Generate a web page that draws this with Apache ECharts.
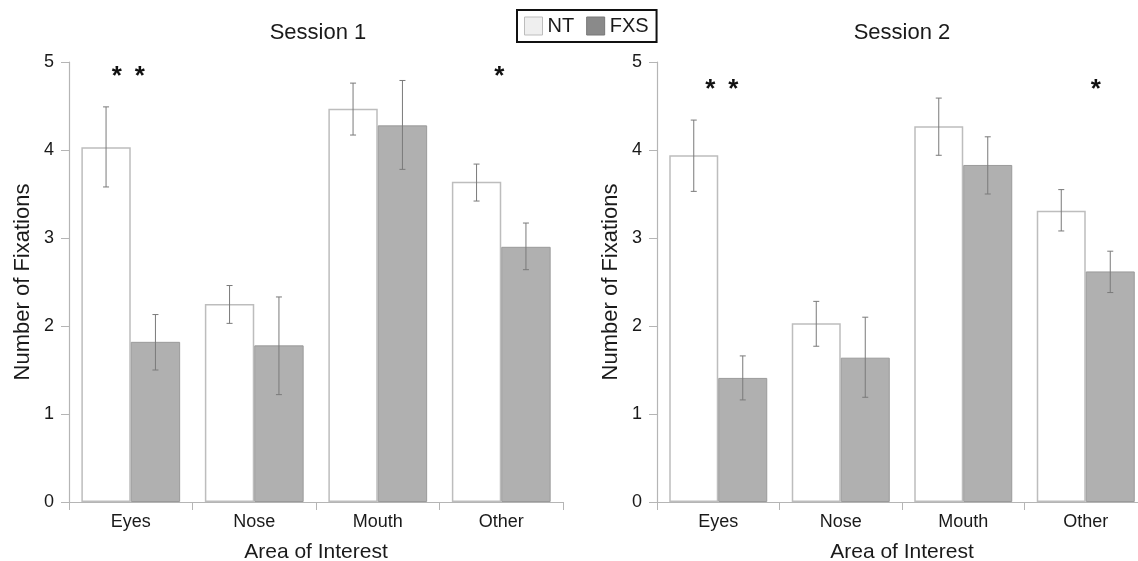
<!DOCTYPE html>
<html>
<head>
<meta charset="utf-8">
<script src="https://cdn.jsdelivr.net/npm/echarts@6/dist/echarts.min.js"></script>
<style>
html,body{margin:0;padding:0;background:#fff;}
#c{width:1138px;height:561px;}
</style>
</head>
<body>
<div id="c"></div>
<script>
// ---- data ----
const categories = ['Eyes', 'Nose', 'Mouth', 'Other'];
const seriesNames = ['NT', 'FXS'];
const titles = ['Session 1', 'Session 2'];
const yTicks = [0, 1, 2, 3, 4, 5];

const s1NT = [4.03, 2.25, 4.47, 3.64];
const s1NTHigh = [4.49, 2.46, 4.76, 3.84];
const s1NTLow = [3.58, 2.03, 4.17, 3.42];
const s1FXS = [1.82, 1.78, 4.28, 2.90];
const s1FXSHigh = [2.13, 2.33, 4.79, 3.17];
const s1FXSLow = [1.50, 1.22, 3.78, 2.64];

const s2NT = [3.94, 2.03, 4.27, 3.31];
const s2NTHigh = [4.34, 2.28, 4.59, 3.55];
const s2NTLow = [3.53, 1.77, 3.94, 3.08];
const s2FXS = [1.41, 1.64, 3.83, 2.62];
const s2FXSHigh = [1.66, 2.10, 4.15, 2.85];
const s2FXSLow = [1.16, 1.19, 3.50, 2.38];

// significance markers: category, marker text
const s1Sig = [['Eyes', '* *'], ['Other', '*']];
const s2Sig = [['Eyes', '* *'], ['Other', '*']];

// ---- styling ----
const FONT = 'Liberation Sans, Arial, Helvetica, sans-serif';
const GAP = 0.20;
const axisGray = '#b5b5b5';
const textCol = '#1a1a1a';

const chart = echarts.init(document.getElementById('c'), null, {renderer: 'canvas'});

function errSeries(gridIdx, name, high, low, side) {
  return {
    type: 'custom',
    name: name,
    xAxisIndex: gridIdx,
    yAxisIndex: gridIdx,
    z: 5,
    silent: true,
    data: high.map((h, i) => [i, h, low[i]]),
    renderItem: function (params, api) {
      const idx = api.value(0);
      const top = api.coord([idx, api.value(1)]);
      const bot = api.coord([idx, api.value(2)]);
      const band = api.size([1, 0])[0];
      const barW = band * (1 - GAP) / 2;
      const cx = top[0] + side * barW / 2;
      const st = {stroke: '#7a7a7a', lineWidth: 1};
      const cap = 3;
      return {
        type: 'group',
        children: [
          {type: 'line', shape: {x1: cx, y1: top[1], x2: cx, y2: bot[1]}, style: st},
          {type: 'line', shape: {x1: cx - cap, y1: top[1], x2: cx + cap, y2: top[1]}, style: st},
          {type: 'line', shape: {x1: cx - cap, y1: bot[1], x2: cx + cap, y2: bot[1]}, style: st}
        ]
      };
    }
  };
}

function sigSeries(gridIdx, sig, level, dxMap) {
  return {
    type: 'custom',
    xAxisIndex: gridIdx,
    yAxisIndex: gridIdx,
    z: 6,
    silent: true,
    data: sig.map(s => [categories.indexOf(s[0]), level, s[1]]),
    renderItem: function (params, api) {
      const idx = api.value(0);
      const p = api.coord([idx, api.value(1)]);
      const txt = sig[params.dataIndex][1];
      const stars = txt.split(' ');
      const dx = dxMap[params.dataIndex];
      const children = stars.map((st, k) => {
        const off = stars.length > 1 ? (k === 0 ? -11.5 : 11.5) : 0;
        return {
          type: 'text',
          style: {
            x: p[0] + dx + off, y: p[1],
            text: st, fill: '#111',
            font: 'bold 26px ' + FONT,
            textAlign: 'center', textVerticalAlign: 'middle'
          }
        };
      });
      return {type: 'group', children: children};
    }
  };
}

function xAxisCfg(gridIdx) {
  return {
    type: 'category',
    gridIndex: gridIdx,
    data: categories,
    name: 'Area of Interest',
    nameLocation: 'middle',
    nameGap: 40,
    nameTextStyle: {fontFamily: FONT, fontSize: 21, color: textCol},
    axisLine: {lineStyle: {color: axisGray, width: 1.2}},
    axisTick: {show: true, alignWithLabel: false, length: 8, lineStyle: {color: axisGray}},
    axisLabel: {fontFamily: FONT, fontSize: 18, color: textCol, margin: 11},
    splitLine: {show: false}
  };
}

function yAxisCfg(gridIdx) {
  return {
    type: 'value',
    gridIndex: gridIdx,
    min: yTicks[0],
    max: yTicks[yTicks.length - 1],
    interval: 1,
    name: 'Number of Fixations',
    nameLocation: 'middle',
    nameGap: 35,
    nameTextStyle: {fontFamily: FONT, fontSize: 22, color: textCol},
    axisLine: {show: true, lineStyle: {color: axisGray, width: 1.2}},
    axisTick: {show: true, length: 8, lineStyle: {color: axisGray}},
    axisLabel: {fontFamily: FONT, fontSize: 18, color: textCol, margin: 15},
    splitLine: {show: false}
  };
}

function barSeries(gridIdx, name, data) {
  const isNT = name === 'NT';
  return {
    type: 'bar',
    name: name,
    xAxisIndex: gridIdx,
    yAxisIndex: gridIdx,
    data: data,
    barGap: '0%',
    barCategoryGap: (GAP * 100) + '%',
    itemStyle: isNT
      ? {color: '#ffffff', borderColor: '#bdbdbd', borderWidth: 1.5}
      : {color: '#b0b0b0', borderColor: '#9a9a9a', borderWidth: 1},
    emphasis: {disabled: true}
  };
}

const option = {
  animation: false,
  backgroundColor: '#ffffff',
  title: [
    {text: titles[0], left: 313, top: 17, textAlign: 'center',
     textStyle: {fontFamily: FONT, fontSize: 22, fontWeight: 'normal', color: textCol}},
    {text: titles[1], left: 897, top: 17, textAlign: 'center',
     textStyle: {fontFamily: FONT, fontSize: 22, fontWeight: 'normal', color: textCol}}
  ],
  legend: {
    left: 517, top: 10,
    data: [
      {name: 'NT', itemStyle: {color: '#efefef', borderColor: '#bdbdbd', borderWidth: 1}},
      {name: 'FXS', itemStyle: {color: '#8a8a8a', borderColor: '#777', borderWidth: 1}}
    ],
    icon: 'rect',
    itemWidth: 18, itemHeight: 18, itemGap: 12,
    padding: [6, 8, 6, 7],
    borderColor: '#111', borderWidth: 2,
    textStyle: {fontFamily: FONT, fontSize: 20, color: textCol},
    selectedMode: false
  },
  grid: [
    {left: 69, right: 1138 - 563, top: 62, bottom: 59, containLabel: false, outerBoundsMode: 'none'},
    {left: 657, right: 1138 - 1147, top: 62, bottom: 59, containLabel: false, outerBoundsMode: 'none'}
  ],
  xAxis: [xAxisCfg(0), xAxisCfg(1)],
  yAxis: [yAxisCfg(0), yAxisCfg(1)],
  series: [
    barSeries(0, 'NT', s1NT),
    barSeries(0, 'FXS', s1FXS),
    errSeries(0, 'NT', s1NTHigh, s1NTLow, -1),
    errSeries(0, 'FXS', s1FXSHigh, s1FXSLow, 1),
    sigSeries(0, s1Sig, 4.83, [-2.5, -2]),
    barSeries(1, 'NT', s2NT),
    barSeries(1, 'FXS', s2FXS),
    errSeries(1, 'NT', s2NTHigh, s2NTLow, -1),
    errSeries(1, 'FXS', s2FXSHigh, s2FXSLow, 1),
    sigSeries(1, s2Sig, 4.68, [3.5, 10])
  ]
};
chart.setOption(option);
</script>
</body>
</html>
